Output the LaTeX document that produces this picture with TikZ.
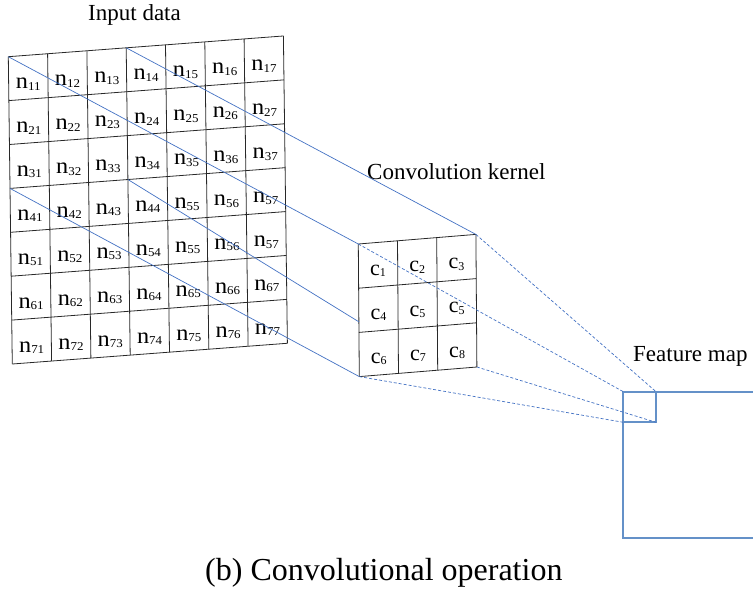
\documentclass[tikz,border=0pt]{standalone}
\usepackage{fontspec}
\setmainfont{Liberation Serif}
\usetikzlibrary{calc}

\definecolor{linkblue}{RGB}{68,114,196}
\definecolor{mapblue}{RGB}{100,145,200}
\definecolor{gridgray}{RGB}{40,40,40}

% letter with a lowered index, e.g. n_{11}
\newcommand\idxlabel[2]{#1\raisebox{-1.5pt}{\fontsize{12}{12}\selectfont #2}}

\tikzset{
  gridline/.style={draw=gridgray, line width=0.8pt},
  cellnum/.style={font=\fontsize{22.5}{22.5}\selectfont, inner sep=0pt, anchor=base, xscale=1.08},
  kernnum/.style={font=\fontsize{22}{22}\selectfont, inner sep=0pt, anchor=base},
  caption/.style={font=\fontsize{23}{23}\selectfont, inner sep=0pt, anchor=base west},
  bigcaption/.style={font=\fontsize{32}{32}\selectfont, inner sep=0pt, anchor=base west},
  solidlink/.style={draw=linkblue, line width=0.7pt},
  dashlink/.style={draw=linkblue, line width=0.7pt, dash pattern=on 3pt off 2pt},
  mapbox/.style={draw=mapblue, line width=2pt},
}

\begin{document}
\begin{tikzpicture}[x=1pt, y=-1pt]
\useasboundingbox (0,0) rectangle (753,591);
\clip (0,0) rectangle (753,591);
\fill[white] (0,0) rectangle (753,591);

% ---- input data: 7x7 slanted grid ----
\foreach \i in {0,...,7}{
  \foreach \j in {0,...,7}{
    \coordinate (g-\i-\j) at ({8.3+\i*39.3+\j*0.57},{56.7-\i*2.96+\j*43.9});
  }
}
\foreach \k in {0,...,7}{
  \draw[gridline] (g-\k-0) -- (g-\k-7);
  \draw[gridline] (g-0-\k) -- (g-7-\k);
}
\foreach \t [count=\c from 0] in {11,12,13,14,15,16,17,
                                  21,22,23,24,25,26,27,
                                  31,32,33,34,35,36,37,
                                  41,42,43,44,55,56,57,
                                  51,52,53,54,55,56,57,
                                  61,62,63,64,65,66,67,
                                  71,72,73,74,75,76,77}{
  \pgfmathtruncatemacro\ci{mod(\c,7)}
  \pgfmathtruncatemacro\cj{int(\c/7)}
  \node[cellnum] (n-\ci-\cj) at ({8.3+(\ci+0.5)*39.3+(\cj+0.5)*0.57},{56.7-(\ci+0.5)*2.96+(\cj+0.5)*43.9+11.5}) {\idxlabel{n}{\t}};
}

% ---- convolution kernel: 3x3 grid ----
\foreach \i in {0,...,3}{
  \foreach \j in {0,...,3}{
    \coordinate (k-\i-\j) at ({358.3+\i*39.2+\j*0.33},{244-\i*3.2+\j*44.2});
  }
}
\foreach \k in {0,...,3}{
  \draw[gridline] (k-\k-0) -- (k-\k-3);
  \draw[gridline] (k-0-\k) -- (k-3-\k);
}
\foreach \t [count=\c from 0] in {1,2,3,4,5,5,6,7,8}{
  \pgfmathtruncatemacro\ci{mod(\c,3)}
  \pgfmathtruncatemacro\cj{int(\c/3)}
  \node[kernnum] (c-\ci-\cj) at ({358.3+(\ci+0.5)*39.2+(\cj+0.5)*0.33},{244-(\ci+0.5)*3.2+(\cj+0.5)*44.2+10.5}) {\idxlabel{c}{\t}};
}
\coordinate (k-left) at ($(k-0-0)!0.587!(k-0-3)$);

% ---- feature map ----
\coordinate (f-tl) at (623.3,391.7);
\coordinate (f-tr) at (656,391.7);
\coordinate (f-br) at (656,422.3);
\coordinate (f-bl) at (623.3,422.3);
\draw[mapbox] (760,391.7) -- (f-tl) -- (623.3,538.3) -- (760,538.3);
\draw[mapbox] (f-tl) rectangle (f-br);

% ---- links from input window to kernel ----
\draw[solidlink] (g-0-0) -- (k-0-0);
\draw[solidlink] (g-3-0) -- (k-3-0);
\draw[solidlink] (g-0-3) -- (k-0-3);
\draw[solidlink] (g-3-3) -- (k-left);

% ---- links from kernel to feature map ----
\draw[dashlink] (k-0-0) -- (f-tl);
\draw[dashlink] (k-3-0) -- (f-tr);
\draw[dashlink] (k-3-3) -- (f-br);
\draw[dashlink] (k-0-3) -- (f-bl);

% ---- titles ----
\node[caption] (t-input) at (88,20.5) {Input data};
\node[caption] (t-kernel) at (367,180) {Convolution kernel};
\node[caption] (t-map) at (633,361.5) {Feature map};
\node[bigcaption] (t-caption) at (205,580) {(b) Convolutional operation};
\end{tikzpicture}
\end{document}
